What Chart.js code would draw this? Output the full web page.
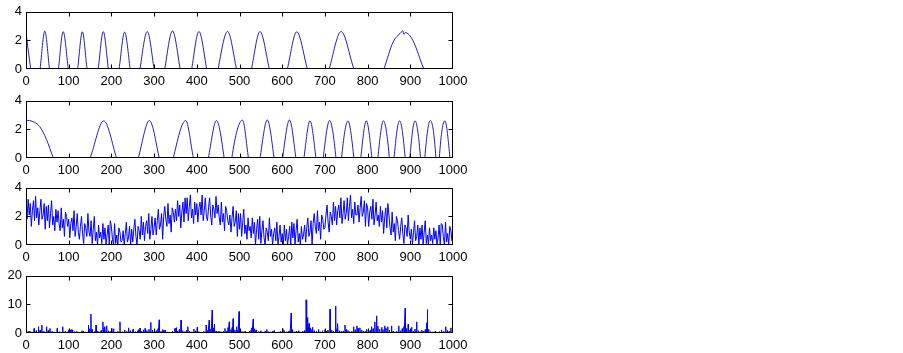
<!DOCTYPE html>
<html>
<head>
<meta charset="utf-8">
<script src="https://cdn.jsdelivr.net/npm/chart.js@4.4.0/dist/chart.umd.min.js"></script>
<style>
  html, body { margin: 0; background: #fff; }
  #wrap { position: relative; width: 903px; height: 353px; background: #fff; }
  #wrap canvas { position: absolute; left: 0; }
</style>
</head>
<body>
<div id="wrap">
  <canvas id="c1" width="480" height="87" style="top:0px"></canvas>
  <canvas id="c2" width="480" height="87" style="top:89px"></canvas>
  <canvas id="c3" width="480" height="87" style="top:176px"></canvas>
  <canvas id="c4" width="480" height="87" style="top:264px"></canvas>
</div>
<script>
// tick labels
const xTicks = [0, 100, 200, 300, 400, 500, 600, 700, 800, 900, 1000];
const yTicksSmall = [0, 2, 4];
const yTicksBig = [0, 10, 20];

// panel 1: bumps getting wider (troughs sit below the axis and are clipped)
const chirp1X = [0, 11, 22, 33, 44, 55, 65.5, 76, 87, 99, 110, 121, 132, 143, 156, 169, 181, 193,
  205.5, 218, 231, 244, 255.5, 267, 284, 300, 312.5, 325, 343, 361, 374.5, 388, 405, 423, 436.5,
  450, 472, 493, 510.5, 528, 548, 570, 591, 612, 634, 659, 684.5, 710, 738, 768, 803, 838, 860,
  878, 882, 885, 888, 906, 932, 985, 1000];
const chirp1Y = [2.5, 0, -2.6, 0, 2.65, 0, -2.6, 0, 2.62, 0, -2.6, 0, 2.6, 0, -2.6, 0, 2.62, 0,
  -2.6, 0, 2.58, 0, -2.6, 0, 2.62, 0, -2.6, 0, 2.66, 0, -2.6, 0, 2.62, 0, -2.6,
  0, 2.62, 0, -2.6, 0, 2.62, 0, -2.6, 0, 2.6, 0, -2.6, 0, 2.62, 0, -2.6, 0, 1.9,
  2.55, 2.68, 2.42, 2.55, 2.0, 0, -2.6, -2.4];

// panel 2: bumps getting narrower
const chirp2X = [0, 16, 32, 48, 64, 107, 150, 182, 212, 237.5, 263, 289, 312, 328.5, 345, 374, 392,
  409.5, 427, 446, 464, 473, 482, 507, 521, 534.5, 548, 565, 581, 591, 601, 617, 632, 641.5, 651,
  665, 679, 687.5, 696, 711, 726, 732.5, 739, 754, 768, 776, 784, 797, 810, 817, 824, 837, 851,
  856.5, 862, 875, 888, 893.5, 899, 911, 924, 929, 934, 947, 960, 964, 968, 981, 993, 1000];
const chirp2Y = [2.65, 2.55, 2.2, 1.3, 0, -2.6, 0, 2.6, 0, -2.6, 0, 2.62, 0, -2.6, 0, 2.62, 0,
  -2.6, 0, 2.62, 0, -2.6, 0, 2.65, 0, -2.6, 0, 2.66, 0, -2.6, 0, 2.66, 0, -2.6, 0,
  2.6, 0, -2.6, 0, 2.62, 0, -2.6, 0, 2.6, 0, -2.6, 0, 2.6, 0, -2.6, 0, 2.6, 0,
  -2.6, 0, 2.6, 0, -2.6, 0, 2.6, 0, -2.6, 0, 2.62, 0, -2.6, 0, 2.6, 0, -2.4];

// panel 3: noisy signal, one value every 2.5 samples (40 per hundred)
const noiseStep = 2.5;
const noiseY = [
  2.6, 1.8, 3.2, 2.1, 2.9, 1.3, 2.4, 3.1, 1.7, 3.4,  1.9, 2.6, 1.4, 2.4, 3.2, 1.8, 2.1, 2.9, 1.1, 2.7,
  1.7, 2.8, 1.2, 2.2, 3.1, 1.4, 2.0, 1.0, 2.5, 1.6,  2.4, 1.5, 1.0, 2.6, 1.2, 1.8, 0.6, 2.3, 2.0, 1.3,
  1.8, 0.5, 1.5, 1.9, 1.0, 2.4, 0.6, 1.3, 2.2, 0.9,  0.4, 1.3, 2.0, 0.8, 0.1, 1.5, 1.2, 0.6, 2.2, 0.9,
  0.6, 1.7, 0.1, 1.1, 2.0, 0.3, 0.9, 0.0, 1.4, 0.5,  0.9, 0.1, 1.5, 0.4, 1.2, 0.0, 0.7, 1.4, 0.0, 1.7,
  1.3, 0.4, 0.0, 1.5, 0.1, 0.7, 0.0, 1.2, 0.9, 0.2,  0.3, 1.0, 0.0, 0.8, 1.6, 0.2, 0.5, 1.3, 0.0, 1.1,
  0.2, 1.1, 1.8, 0.6, 0.0, 1.3, 1.0, 0.4, 2.0, 0.7,  1.6, 0.3, 1.3, 1.7, 0.8, 2.2, 0.4, 1.1, 2.0, 0.7,
  1.2, 1.9, 0.7, 1.7, 2.5, 1.1, 1.4, 2.2, 0.4, 2.0,  2.7, 1.8, 1.3, 2.9, 1.5, 2.1, 0.9, 2.6, 2.3, 1.6,
  2.5, 1.7, 3.1, 2.0, 2.8, 1.2, 2.3, 3.0, 1.6, 3.3,  2.2, 3.3, 1.7, 2.7, 3.5, 1.9, 2.5, 1.5, 3.0, 2.1,
  2.9, 1.6, 2.6, 3.0, 2.1, 3.5, 1.7, 2.4, 3.3, 2.0,  1.7, 2.6, 3.3, 2.1, 1.4, 2.8, 2.5, 1.9, 3.4, 2.2,
  2.8, 1.9, 1.4, 3.0, 1.6, 2.2, 1.0, 2.7, 2.4, 1.7,  1.4, 2.1, 0.9, 1.9, 2.7, 1.3, 1.6, 2.4, 0.6, 2.2,
  1.1, 2.2, 0.6, 1.6, 2.5, 0.8, 1.4, 0.4, 1.9, 1.0,  1.3, 0.5, 1.9, 0.8, 1.6, 0.0, 1.1, 1.8, 0.4, 2.0,
  0.1, 1.0, 1.7, 0.5, 0.0, 1.2, 0.9, 0.3, 1.9, 0.6,  1.1, 0.0, 0.8, 1.2, 0.3, 1.6, 0.0, 0.6, 1.4, 0.2,
  0.8, 0.0, 1.4, 0.3, 1.1, 0.0, 0.6, 1.3, 0.0, 1.6,  0.5, 1.5, 0.0, 1.0, 1.8, 0.2, 0.8, 0.0, 1.3, 0.4,
  0.7, 1.4, 0.2, 1.2, 1.9, 0.6, 0.9, 1.7, 0.0, 1.5,  2.2, 1.3, 0.8, 2.4, 1.0, 1.6, 0.4, 2.1, 1.8, 1.1,
  1.2, 2.1, 2.8, 1.6, 0.9, 2.3, 2.0, 1.4, 3.0, 1.7,  2.7, 1.4, 2.4, 2.8, 1.9, 3.3, 1.5, 2.2, 3.1, 1.8,
  2.2, 3.3, 1.7, 2.7, 3.5, 1.9, 2.5, 1.5, 3.0, 2.1,  2.1, 2.8, 1.6, 2.6, 3.4, 2.0, 2.3, 3.1, 1.3, 2.9,
  2.6, 1.3, 2.3, 2.7, 1.8, 3.2, 1.4, 2.1, 3.0, 1.7,  2.1, 1.3, 2.7, 1.6, 2.4, 0.8, 1.9, 2.6, 1.2, 2.9,
  2.1, 1.2, 0.7, 2.3, 0.9, 1.5, 0.3, 2.0, 1.7, 1.0,  0.4, 1.3, 1.9, 0.8, 0.1, 1.4, 1.2, 0.6, 2.1, 0.9,
  0.4, 1.1, 0.0, 0.9, 1.7, 0.3, 0.6, 1.4, 0.0, 1.2,  0.4, 1.4, 0.0, 0.9, 1.7, 0.1, 0.7, 0.0, 1.2, 0.3,
  0.7, 0.1, 1.2, 0.4, 1.0, 0.0, 0.5, 1.4, 0.0, 1.5,  1.4, 0.5, 0.0, 1.6, 0.2, 0.8, 0.0, 1.3, 1.0, 0.3,
  2.1
];

// panel 4: sparse spikes (position, height)
const spikeX = [5, 9, 14, 19, 24, 29, 33, 37, 42, 48, 52, 56, 61, 67, 73, 79, 86, 92, 98, 101, 104, 107, 109,
  114, 119, 125, 131, 134, 140, 146, 149, 152, 155, 160, 164, 168, 172, 176, 180, 183, 185, 189, 193, 197,
  201, 205, 210, 215, 220, 226, 231, 236, 240, 244, 248, 251, 256, 261, 264, 267, 271, 275, 279, 283, 288,
  292, 296, 300, 305, 309, 312, 316, 320, 323, 326, 331, 337, 343, 349, 352, 355, 359, 363, 367, 372, 376,
  379, 383, 388, 393, 397, 401, 405, 410, 416, 422, 426, 429, 433, 436, 439, 441, 445, 450, 454, 458, 462,
  466, 470, 473, 476, 480, 483, 485, 489, 493, 496, 499, 503, 508, 513, 518, 523, 527, 529, 532, 535, 538,
  540, 545, 550, 555, 560, 564, 568, 573, 577, 581, 586, 591, 596, 601, 604, 609, 614, 618, 621, 624, 628,
  633, 637, 639, 643, 648, 652, 656, 658, 660, 663, 666, 669, 671, 675, 680, 685, 689, 694, 700, 703, 707,
  712, 716, 720, 725, 728, 730, 734, 738, 743, 747, 750, 754, 758, 763, 767, 771, 775, 778, 782, 786, 790,
  794, 798, 802, 806, 809, 813, 817, 821, 824, 828, 833, 836, 840, 843, 847, 851, 856, 860, 864, 868, 873,
  877, 881, 885, 888, 891, 895, 899, 903, 907, 911, 915, 919, 923, 927, 931, 935, 938, 940, 943, 947, 952,
  958, 963, 968, 973, 978, 983, 987, 991, 995, 999];
const spikeH = [0.5, 0.7, 0.4, 1.6, 0.8, 2.2, 1.0, 2.8, 0.6, 2.2, 0.9, 1.6, 0.5, 0.4, 1.6, 0.5, 2.2, 0.6, 0.4, 1.2, 1.1, 1.3, 1.0,
  0.5, 0.6, 0.3, 0.8, 0.6, 0.4, 2.8, 1.5, 6.6, 1.2, 0.5, 2.8, 0.7, 0.4, 0.9, 3.9, 1.8, 2.2, 2.5, 0.8, 0.5,
  1.6, 1.5, 0.4, 0.6, 3.9, 0.5, 1.0, 0.6, 1.8, 0.8, 0.4, 1.4, 0.5, 0.8, 1.2, 1.7, 0.6, 1.1, 1.6, 0.9, 1.3,
  3.7, 1.0, 0.5, 0.8, 1.5, 4.6, 0.6, 1.2, 1.0, 0.9, 0.4, 0.3, 0.6, 1.6, 1.9, 0.7, 1.2, 4.5, 0.8, 0.5, 1.0,
  2.2, 0.6, 0.4, 1.4, 0.8, 2.0, 0.5, 0.3, 0.6, 2.8, 1.0, 4.5, 1.4, 8.0, 1.8, 3.1, 0.7, 0.5, 0.6, 0.4, 0.5,
  1.6, 0.7, 1.9, 3.9, 1.2, 2.0, 5.0, 1.1, 2.2, 1.0, 7.5, 0.8, 0.5, 0.6, 0.3, 0.7, 1.0, 1.8, 4.8, 1.5, 0.9,
  1.1, 0.5, 0.8, 0.4, 0.6, 1.2, 0.5, 0.4, 0.7, 0.8, 0.3, 0.4, 0.6, 1.6, 1.0, 0.4, 0.5, 0.8, 7.0, 1.2, 0.4,
  0.6, 0.5, 0.8, 0.4, 0.7, 0.9, 11.6, 3.0, 5.4, 3.3, 1.8, 1.2, 2.0, 0.8, 0.6, 1.2, 0.4, 0.8, 1.2, 0.6, 1.0,
  8.3, 1.0, 0.6, 9.4, 1.5, 3.3, 0.8, 0.5, 0.7, 2.8, 1.2, 0.9, 0.5, 0.6, 2.2, 1.1, 2.5, 1.6, 1.8, 1.0, 0.7,
  0.5, 1.3, 0.6, 0.9, 2.2, 1.5, 3.9, 6.0, 2.4, 1.4, 2.0, 1.2, 2.5, 1.7, 2.2, 1.0, 2.5, 0.7, 0.4, 0.6, 2.5,
  0.8, 1.5, 2.3, 8.7, 1.6, 3.1, 1.0, 2.0, 0.6, 1.4, 3.9, 0.8, 0.4, 1.0, 0.6, 1.2, 3.6, 8.2, 1.3, 0.5, 0.4,
  0.6, 0.3, 0.5, 1.1, 0.6, 2.2, 0.9, 0.5, 1.8, 0.6];

Chart.defaults.font.family = '"Liberation Sans", Arial, sans-serif';
Chart.defaults.font.size = 13;
Chart.defaults.color = '#000';

// MATLAB-like box with inward ticks on all four sides
const boxTicks = {
  id: 'boxTicks',
  afterDatasetsDraw(chart) {
    const { ctx, chartArea: a, scales: { x, y } } = chart;
    const len = 4;
    const L = Math.round(a.left) + 0.5, R = Math.round(a.right) - 0.5;
    const T = Math.round(a.top) + 0.5, B = Math.round(a.bottom) - 0.5;
    ctx.save();
    ctx.strokeStyle = '#000';
    ctx.lineWidth = 1;
    ctx.beginPath();
    x.ticks.slice(1, -1).forEach(t => {
      const px = Math.round(x.getPixelForValue(t.value)) + 0.5;
      ctx.moveTo(px, B); ctx.lineTo(px, B - len);
      ctx.moveTo(px, T); ctx.lineTo(px, T + len);
    });
    y.ticks.slice(1, -1).forEach(t => {
      const py = Math.round(y.getPixelForValue(t.value)) + 0.5;
      ctx.moveTo(L, py); ctx.lineTo(L + len, py);
      ctx.moveTo(R, py); ctx.lineTo(R - len, py);
    });
    ctx.stroke();
    ctx.strokeRect(L, T, R - L, B - T);
    ctx.restore();
  }
};

function makePanel(id, points, yMax, yTicks, color, width, smooth) {
  new Chart(document.getElementById(id), {
    type: 'line',
    data: {
      datasets: [{
        data: points,
        borderColor: color,
        borderWidth: width,
        pointRadius: 0,
        fill: false,
        cubicInterpolationMode: smooth ? 'monotone' : 'default',
        tension: 0
      }]
    },
    options: {
      responsive: false,
      animation: false,
      events: [],
      layout: { padding: { left: 0, top: 8, right: 27, bottom: 0 } },
      plugins: { legend: { display: false }, tooltip: { enabled: false } },
      scales: {
        x: {
          type: 'linear', min: 0, max: 1000,
          grid: { display: false, drawTicks: false },
          border: { display: false },
          afterBuildTicks: s => { s.ticks = xTicks.map(v => ({ value: v })); },
          afterFit: s => { s.height = 18; },
          ticks: { padding: 5, maxRotation: 0, autoSkip: false, callback: v => String(v) }
        },
        y: {
          type: 'linear', min: 0, max: yMax,
          grid: { display: false, drawTicks: false },
          border: { display: false },
          afterBuildTicks: s => { s.ticks = yTicks.map(v => ({ value: v })); },
          afterFit: s => { s.width = 26; },
          ticks: { padding: 4, callback: v => String(v) }
        }
      }
    },
    plugins: [boxTicks]
  });
}

const pts1 = chirp1X.map((x, i) => ({ x, y: chirp1Y[i] }));
const pts2 = chirp2X.map((x, i) => ({ x, y: chirp2Y[i] }));
const pts3 = noiseY.map((v, i) => ({ x: i * noiseStep, y: v }));
const pts4 = spikeX.flatMap((x, i) => [{ x: x - 0.7, y: 0 }, { x, y: spikeH[i] }, { x: x + 0.7, y: 0 }]);

makePanel('c1', pts1, 4, yTicksSmall, '#2020b0', 1, true);
makePanel('c2', pts2, 4, yTicksSmall, '#2020b0', 1, true);
makePanel('c3', pts3, 4, yTicksSmall, '#0000ff', 1, false);
makePanel('c4', pts4, 20, yTicksBig, '#0000ff', 1, false);
</script>
</body>
</html>
